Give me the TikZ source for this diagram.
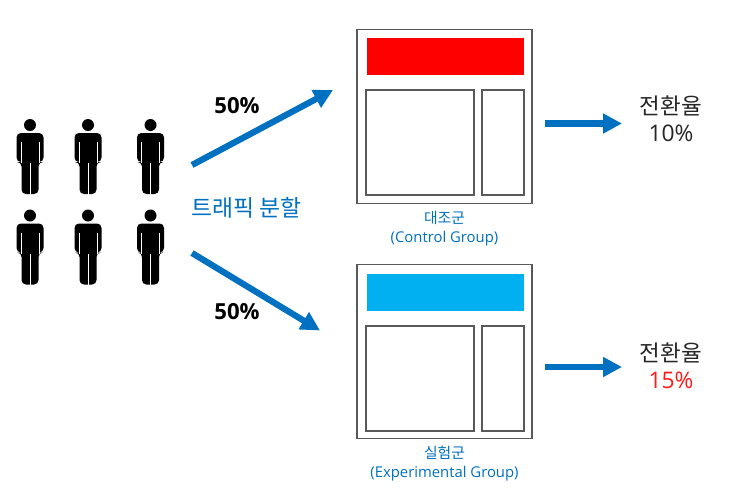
\documentclass[tikz,border=0pt]{standalone}
\usepackage{fontspec}
\setmainfont{Open Sans}
\newfontfamily\krfont{Noto Sans CJK KR}
\usepackage{xcolor}
\usetikzlibrary{arrows.meta, positioning}
\definecolor{flowblue}{HTML}{0070C0}
\definecolor{framegray}{HTML}{595959}
\definecolor{bannerblue}{HTML}{00B0F0}
\tikzset{
  frame/.style={rectangle, draw=framegray, fill=white, minimum width=3.5cm,
                minimum height=3.48cm, inner sep=0pt, outer sep=0pt, line width=0.9pt},
  banner/.style={rectangle, minimum width=3.14cm, minimum height=0.74cm,
                 inner sep=0pt, outer sep=0pt},
  bigpane/.style={rectangle, draw=framegray, minimum width=2.16cm, minimum height=2.1cm,
                  inner sep=0pt, outer sep=0pt, line width=0.7pt},
  sidepane/.style={rectangle, draw=framegray, minimum width=0.84cm, minimum height=2.1cm,
                   inner sep=0pt, outer sep=0pt, line width=0.7pt},
  flow/.style={-{Triangle[length=0.38cm, width=0.38cm]}, draw=flowblue, line width=0.125cm},
  share/.style={font=\bfseries\fontsize{12.6}{14}\selectfont, text=black, inner sep=0pt},
  caption/.style={font=\fontsize{8.45}{10.9}\selectfont, text=flowblue, align=center, inner sep=0pt},
  rate/.style={font=\fontsize{13}{15.4}\selectfont, text=black!85, align=center, inner sep=0pt},
  person/.pic={
    \fill[black] (0,0) circle (6);
    \fill[black, rounded corners=2.5] (-13.5,37) -- (-13.5,8) -- (13.5,8) -- (13.5,37)
      -- (8.5,37) -- (8.5,69) -- (-8.5,69) -- (-8.5,37) -- cycle;
    \draw[white, line width=0.5pt] (-9,17) -- (-9,38) (9,17) -- (9,38) (0,38) -- (0,70);
  },
}

\begin{document}
\begin{tikzpicture}[x=0.02cm, y=-0.02cm]
  \useasboundingbox (0,0) rectangle (732,497);

  % People
  \pic (personA) at (30,125) {person};
  \pic (personB) at (88,125) {person};
  \pic (personC) at (150.5,125) {person};
  \pic (personD) at (30,215.5) {person};
  \pic (personE) at (88,215.5) {person};
  \pic (personF) at (150.5,215.5) {person};

  % Control page
  \node[frame] (control) at (444.5,116.5) {};
  \node[banner, fill=red] (controlbanner) at (445.5,56.5) {};
  \node[bigpane] (controlbig) at (420,142.5) {};
  \node[sidepane, right=0.16cm of controlbig] (controlside) {};
  \node[caption, below=0.14cm of control] (controlcap) {{\krfont 대조군}\\(Control Group)};

  % Experimental page
  \node[frame] (experiment) at (444.5,351.5) {};
  \node[banner, fill=bannerblue] (experimentbanner) at (445.5,292.5) {};
  \node[bigpane] (experimentbig) at (420,378.5) {};
  \node[sidepane, right=0.16cm of experimentbig] (experimentside) {};
  \node[caption, below=0.14cm of experiment] (experimentcap) {{\krfont 실험군}\\(Experimental Group)};

  % Labels
  \node[share] (shareup) at (237,106) {50\%};
  \node[share] (sharedown) at (237,312) {50\%};
  \node[font=\krfont\fontsize{13}{14}\selectfont, text=flowblue, inner sep=0pt] (split) at (246.5,208) {트래픽 분할};
  \node[rate] (controlrate) at (671,118.5) {{\krfont\fontsize{12.8}{15.4}\selectfont 전환율}\\10\%};
  \node[rate] (experimentrate) at (671,366) {{\krfont\fontsize{12.8}{15.4}\selectfont 전환율}\\\textcolor{red!90!white}{15\%}};

  % Free ends of the arrows
  \coordinate (upstart) at (192,165);
  \coordinate (upend) at (333,90);
  \coordinate (downstart) at (192,253);
  \coordinate (downend) at (320,330.5);
  \coordinate (controlstart) at (545,123.5);
  \coordinate (controlend) at (622,123.5);
  \coordinate (experimentstart) at (545,367);
  \coordinate (experimentend) at (622,367);

  % Arrows
  \draw[flow] (upstart) -- (upend);
  \draw[flow] (downstart) -- (downend);
  \draw[flow] (controlstart) -- (controlend);
  \draw[flow] (experimentstart) -- (experimentend);

\end{tikzpicture}
\end{document}
